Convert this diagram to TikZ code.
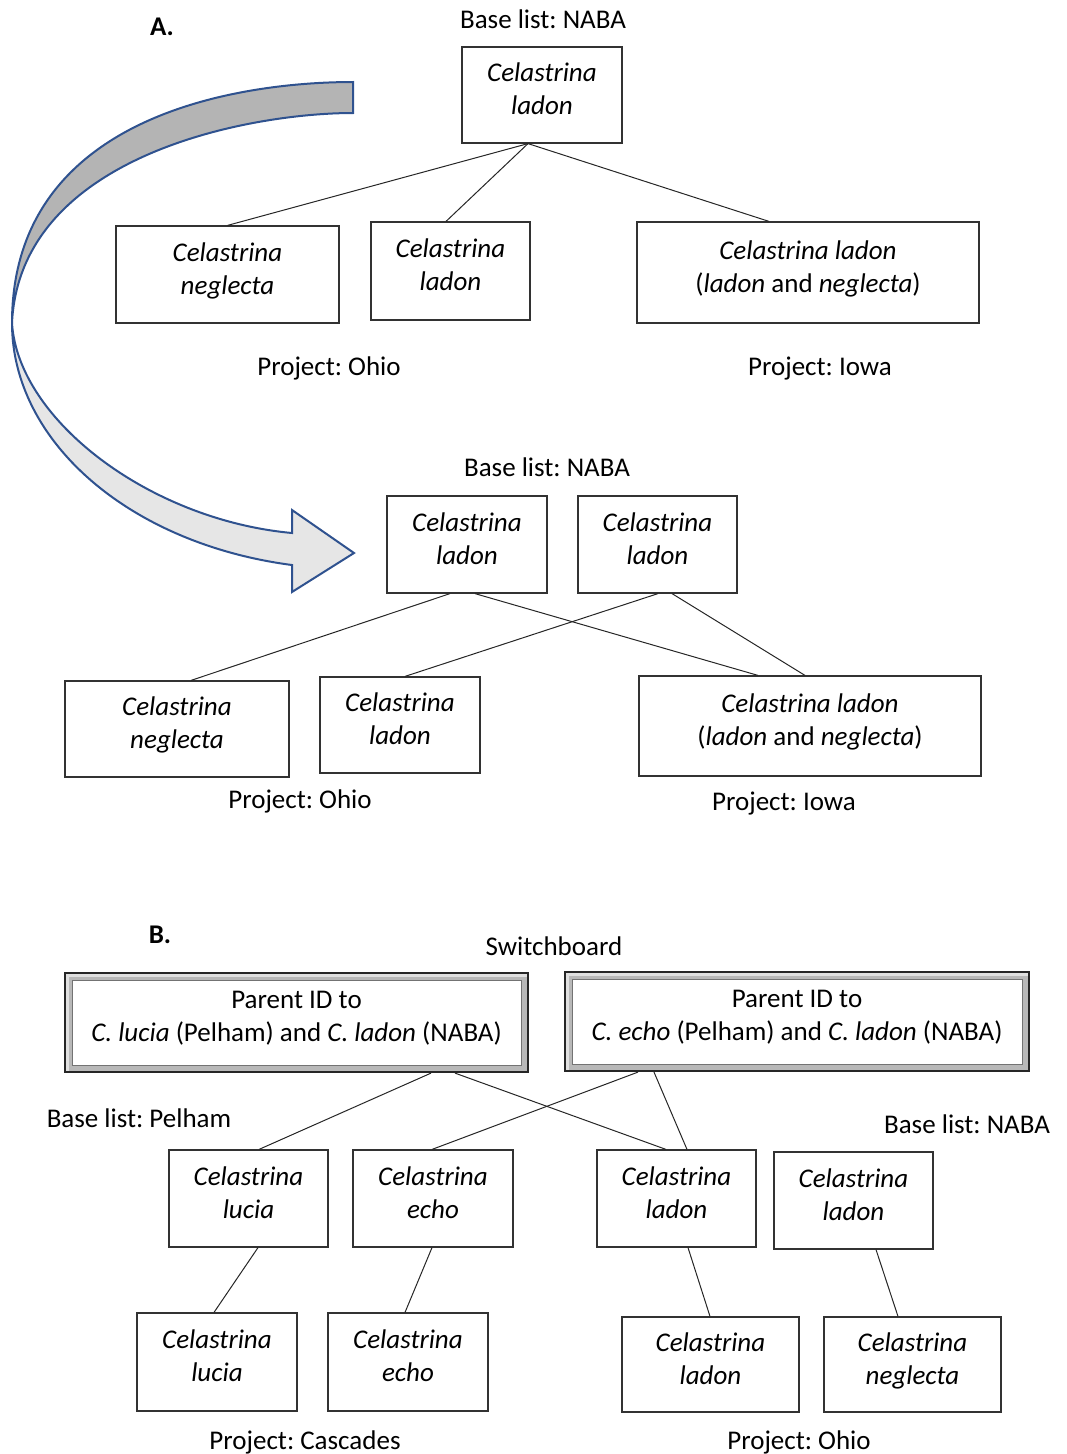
\documentclass[tikz,border=0pt]{standalone}
\usepackage{fontspec}
\setmainfont{Carlito}
\frenchspacing
\newcommand\myfs{\fontsize{27}{33}\selectfont}
\definecolor{arrowline}{RGB}{47,82,143}
\definecolor{darkfill}{RGB}{180,180,180}
\definecolor{lightfill}{RGB}{230,230,230}
\definecolor{boxline}{RGB}{50,50,50}
\begin{document}
\begin{tikzpicture}[x=1pt,y=-1pt,
  sz/.style 2 args={minimum width=#1pt, minimum height=#2pt},
  box/.style={draw=boxline, line width=1.2pt, align=center, inner sep=0pt,
    font=\myfs\itshape,
    execute at begin node={\rule{0pt}{20pt}},
    execute at end node={\rule[-12pt]{0pt}{12pt}}},
  sw/.style={draw=black!85, line width=2.2pt, fill=white, align=center, inner sep=0pt,
    font=\myfs,
    execute at begin node={\rule{0pt}{20pt}},
    execute at end node={\rule[-12pt]{0pt}{12pt}},
    path picture={
      \fill[black!28] (path picture bounding box.south west) rectangle (path picture bounding box.north east);
      \fill[black!12] ([shift={(1pt,-1pt)}]path picture bounding box.north west) rectangle ([shift={(-1pt,-4pt)}]path picture bounding box.north east);
      \fill[black!12] ([shift={(1pt,-1pt)}]path picture bounding box.north west) rectangle ([shift={(4pt,1pt)}]path picture bounding box.south west);
      \draw[fill=white, draw=black!55, line width=0.9pt]
        ([shift={(7pt,7pt)}]path picture bounding box.south west) rectangle
        ([shift={(-7pt,-7pt)}]path picture bounding box.north east);
    }},
  lbl/.style={anchor=base, inner sep=0pt, font=\myfs},
  link/.style={draw=black!85, line width=1pt},
  arrowband/.style={draw=arrowline, line width=2pt, line join=miter}
]
\useasboundingbox (0,0) rectangle (1066,1454);

% ---------- curved arrow ----------
\draw[arrowband, fill=darkfill]
  (353,82) .. controls (250,82) and (12,110) .. (12,323)
  .. controls (20,155) and (250,113) .. (353,113) -- cycle;
\draw[arrowband, fill=lightfill]
  (12,323) arc[start angle=180, end angle=100.3, x radius=341, y radius=246]
  -- (292,592) -- (354,553) -- (292,510) -- (292,533)
  .. controls (150,520) and (18,420) .. (12,323) -- cycle;

% ---------- Panel A (top) ----------
\node[lbl, font=\myfs\bfseries] (labA) at (162,35) {A.};
\node[lbl] (baseA1) at (543,28) {Base list: NABA};
\node[box, sz={160}{96}] (a0) at (542,95) {Celastrina\\ladon};
\node[box, sz={223}{97}] (a1) at (227.5,274.5) {Celastrina\\neglecta};
\node[box, sz={159}{98}] (a2) at (450.5,271) {Celastrina\\ladon};
\node[box, sz={342}{101}] (a3) at (808,272.5) {Celastrina ladon\\\textup{(}ladon \textup{and} neglecta\textup{)}};
\node[lbl] (projA1) at (329,375) {Project: Ohio};
\node[lbl] (projA2) at (820,375) {Project: Iowa};
\draw[link] ([xshift=-14pt]a0.south) -- (a1.north);
\draw[link] ([xshift=-14pt]a0.south) -- ([xshift=-4.5pt]a2.north);
\draw[link] ([xshift=-14pt]a0.south) -- ([xshift=-39pt]a3.north);

% ---------- Panel A (bottom) ----------
\node[lbl] (baseA2) at (547,476) {Base list: NABA};
\node[box, sz={160}{97}] (b1) at (467,544.5) {Celastrina\\ladon};
\node[box, sz={159}{97}] (b2) at (657.5,544.5) {Celastrina\\ladon};
\node[box, sz={224}{96}] (b3) at (177,729) {Celastrina\\neglecta};
\node[box, sz={160}{96}] (b4) at (400,725) {Celastrina\\ladon};
\node[box, sz={342}{100}] (b5) at (810,726) {Celastrina ladon\\\textup{(}ladon \textup{and} neglecta\textup{)}};
\node[lbl] (projA3) at (300,808) {Project: Ohio};
\node[lbl] (projA4) at (784,810) {Project: Iowa};
\draw[link] ([xshift=-17pt]b1.south) -- ([xshift=14pt]b3.north);
\draw[link] ([xshift=8pt]b1.south) -- ([xshift=-52pt]b5.north);
\draw[link] ([xshift=0.5pt]b2.south) -- ([xshift=5pt]b4.north);
\draw[link] ([xshift=14.5pt]b2.south) -- ([xshift=-5pt]b5.north);

% ---------- Panel B ----------
\node[lbl, font=\myfs\bfseries] (labB) at (160,943) {B.};
\node[lbl] (swlab) at (554,955) {Switchboard};
\node[sw, sz={463}{99}] (s1) at (296.5,1022.5) {Parent ID to\\\textit{C. lucia} (Pelham) and \textit{C. ladon} (NABA)};
\node[sw, sz={464}{99}] (s2) at (797,1021.5) {Parent ID to\\\textit{C. echo} (Pelham) and \textit{C. ladon} (NABA)};
\node[lbl] (baseB1) at (139,1127) {Base list: Pelham};
\node[lbl] (baseB2) at (967,1133) {Base list: NABA};
\node[box, sz={159}{97}] (c1) at (248.5,1198.5) {Celastrina\\lucia};
\node[box, sz={160}{97}] (c2) at (433,1198.5) {Celastrina\\echo};
\node[box, sz={159}{97}] (c3) at (676.5,1198.5) {Celastrina\\ladon};
\node[box, sz={159}{97}] (c4) at (853.5,1200.5) {Celastrina\\ladon};
\node[box, sz={160}{98}] (d1) at (217,1362) {Celastrina\\lucia};
\node[box, sz={160}{98}] (d2) at (408,1362) {Celastrina\\echo};
\node[box, sz={177}{95}] (d3) at (710.5,1364.5) {Celastrina\\ladon};
\node[box, sz={177}{95}] (d4) at (912.5,1364.5) {Celastrina\\neglecta};
\node[lbl] (projB1) at (305,1449) {Project: Cascades};
\node[lbl] (projB2) at (799,1449) {Project: Ohio};
\draw[link] ([xshift=134.5pt]s1.south) -- ([xshift=10.5pt]c1.north);
\draw[link] ([xshift=158.5pt]s1.south) -- ([xshift=-10.5pt]c3.north);
\draw[link] ([xshift=-159pt]s2.south) -- ([xshift=-1pt]c2.north);
\draw[link] ([xshift=-143pt]s2.south) -- ([xshift=10.5pt]c3.north);
\draw[link] ([xshift=9.5pt]c1.south) -- ([xshift=-3pt]d1.north);
\draw[link] ([xshift=-1pt]c2.south) -- ([xshift=-3pt]d2.north);
\draw[link] ([xshift=11.5pt]c3.south) -- ([xshift=-0.5pt]d3.north);
\draw[link] ([xshift=22.5pt]c4.south) -- ([xshift=-14.5pt]d4.north);
\end{tikzpicture}
\end{document}
